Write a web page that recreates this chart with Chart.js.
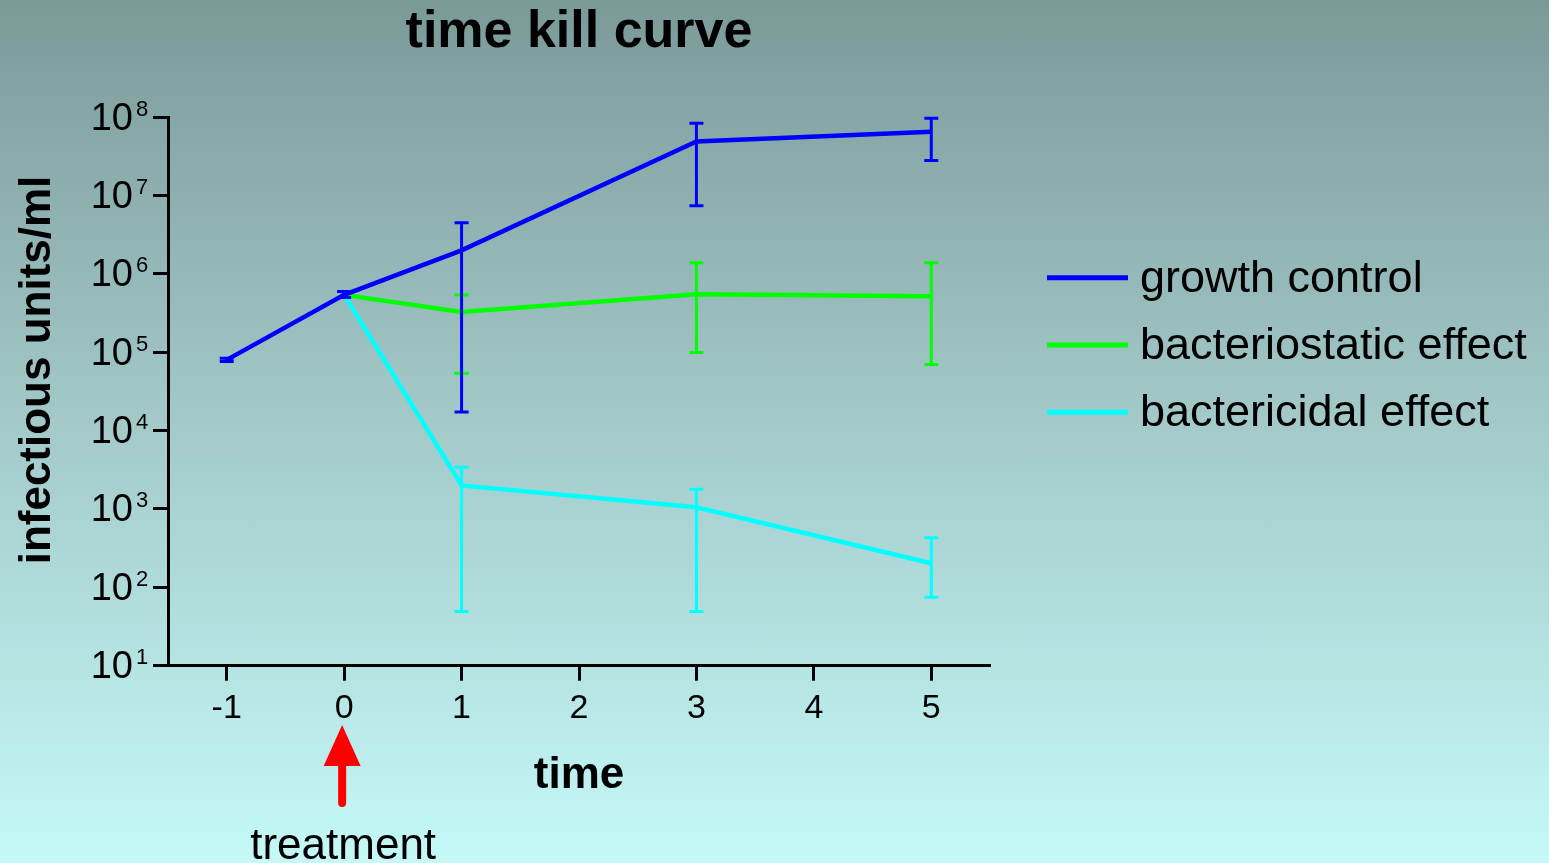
<!DOCTYPE html>
<html>
<head>
<meta charset="utf-8">
<title>time kill curve</title>
<script src="https://cdn.jsdelivr.net/npm/chart.js@4.4.1/dist/chart.umd.min.js"></script>
<style>
  html, body { margin: 0; padding: 0; }
  body {
    width: 1549px; height: 863px; overflow: hidden;
    background: linear-gradient(to bottom, #7a9a98 0%, #a4caca 50%, #c4f9f8 100%);
  }
  #wrap { position: relative; width: 1549px; height: 863px; }
  canvas { display: block; }
</style>
</head>
<body>
<div id="wrap"><canvas id="c" width="1549" height="863"></canvas></div>
<script>
// Sampling times (h) and axis ticks
const xTicks = [-1, 0, 1, 2, 3, 4, 5];
const yTickExponents = [1, 2, 3, 4, 5, 6, 7, 8];

// Growth control (untreated), measured from t = -1
const growthTimes = [-1, 0, 1, 3, 5];
const growthMean  = [8.0e4, 5.4e5, 2.0e6, 4.9e7, 6.5e7];
const growthLow   = [7.6e4, 5.0e5, 1.73e4, 7.4e6, 2.8e7];
const growthHigh  = [8.4e4, 5.97e5, 4.5e6, 8.4e7, 9.7e7];

// Treated cultures, from t = 0 (treatment)
const treatedTimes = [0, 1, 3, 5];
const staticMean = [5.4e5, 3.27e5, 5.5e5, 5.2e5];
const staticLow  = [null, 5.4e4, 9.9e4, 7.0e4];
const staticHigh = [null, 5.4e5, 1.39e6, 1.39e6];

const cidalMean = [5.4e5, 2.0e3, 1.05e3, 203];
const cidalLow  = [null, 49, 49, 75];
const cidalHigh = [null, 3.4e3, 1.79e3, 430];

const seriesNames = ['growth control', 'bacteriostatic effect', 'bactericidal effect'];
const seriesColors = ['#0000ff', '#00ff00', '#00ffff'];

const FONT = "'Liberation Sans', Arial, Helvetica, sans-serif";
Chart.defaults.font.family = FONT;
Chart.defaults.color = '#000';

function points(times, values) {
  return times.map((t, i) => ({ x: t, y: values[i] }));
}

function makeSeries(i, times, mean, low, high) {
  return {
    label: seriesNames[i],
    data: points(times, mean),
    errLow: low,
    errHigh: high,
    borderColor: seriesColors[i],
    backgroundColor: seriesColors[i],
    borderWidth: 4.5,
    pointRadius: 0,
    pointHoverRadius: 0,
    tension: 0,
    fill: false
  };
}

// Vertical error bars with caps, drawn right after each series' line
const errorBars = {
  id: 'errorBars',
  afterDatasetDraw(chart, args) {
    const ds = chart.data.datasets[args.index];
    if (!ds.errLow) return;
    const yScale = chart.scales.y;
    const ctx = chart.ctx;
    ctx.save();
    ctx.strokeStyle = ds.borderColor;
    ctx.lineWidth = 3;
    ctx.lineCap = 'butt';
    args.meta.data.forEach((pt, i) => {
      const lo = ds.errLow[i], hi = ds.errHigh[i];
      if (lo == null || hi == null) return;
      const x = pt.x;
      const yLo = yScale.getPixelForValue(lo);
      const yHi = yScale.getPixelForValue(hi);
      ctx.beginPath();
      ctx.moveTo(x, yLo); ctx.lineTo(x, yHi);
      ctx.moveTo(x - 7, yLo); ctx.lineTo(x + 7, yLo);
      ctx.moveTo(x - 7, yHi); ctx.lineTo(x + 7, yHi);
      ctx.stroke();
    });
    ctx.restore();
  }
};

// Power-of-ten tick labels, y-axis title, legend and treatment marker
const decorations = {
  id: 'decorations',
  afterDraw(chart) {
    const ctx = chart.ctx;
    const yScale = chart.scales.y;
    const xScale = chart.scales.x;
    ctx.save();
    ctx.fillStyle = '#000';

    // 10^n labels
    yScale.ticks.forEach(t => {
      const y = yScale.getPixelForValue(t.value);
      const exp = Math.round(Math.log10(t.value));
      ctx.font = `38px ${FONT}`;
      ctx.textAlign = 'right';
      ctx.textBaseline = 'alphabetic';
      ctx.fillText('10', 133, y + 12.5);
      ctx.font = `22px ${FONT}`;
      ctx.textAlign = 'left';
      ctx.fillText(String(exp), 136, y - 1.5);
    });

    // y-axis title
    ctx.save();
    ctx.translate(50, 370);
    ctx.rotate(-Math.PI / 2);
    ctx.font = `bold 44px ${FONT}`;
    ctx.textAlign = 'center';
    ctx.textBaseline = 'alphabetic';
    ctx.fillText('infectious units/ml', 0, 0);
    ctx.restore();

    // legend
    chart.data.datasets.forEach((ds, i) => {
      const y = 277.7 + i * 67.3;
      ctx.strokeStyle = ds.borderColor;
      ctx.lineWidth = 5;
      ctx.beginPath();
      ctx.moveTo(1047, y);
      ctx.lineTo(1128, y);
      ctx.stroke();
      ctx.font = `45px ${FONT}`;
      ctx.textAlign = 'left';
      ctx.textBaseline = 'alphabetic';
      ctx.fillText(ds.label, 1140, y + 14);
    });

    // treatment arrow at t = 0
    const x0 = xScale.getPixelForValue(0) - 2;
    ctx.fillStyle = '#ff0000';
    ctx.beginPath();
    ctx.moveTo(x0, 725);
    ctx.lineTo(x0 + 18.5, 766);
    ctx.lineTo(x0 - 18.5, 766);
    ctx.closePath();
    ctx.fill();
    ctx.strokeStyle = '#ff0000';
    ctx.lineWidth = 8;
    ctx.lineCap = 'round';
    ctx.beginPath();
    ctx.moveTo(x0, 760);
    ctx.lineTo(x0, 803);
    ctx.stroke();

    ctx.fillStyle = '#000';
    ctx.font = `44px ${FONT}`;
    ctx.textAlign = 'center';
    ctx.fillText('treatment', x0 + 1, 859);
    ctx.restore();
  }
};

const axisGrid = {
  drawOnChartArea: false,
  drawTicks: true,
  tickLength: 15,
  tickWidth: 3,
  tickColor: '#000'
};

new Chart(document.getElementById('c'), {
  type: 'line',
  data: {
    datasets: [
      makeSeries(0, growthTimes, growthMean, growthLow, growthHigh),
      makeSeries(1, treatedTimes, staticMean, staticLow, staticHigh),
      makeSeries(2, treatedTimes, cidalMean, cidalLow, cidalHigh)
    ]
  },
  options: {
    responsive: false,
    devicePixelRatio: 1,
    animation: false,
    events: [],
    layout: { padding: { left: 0, right: 559, top: 0, bottom: 0 } },
    plugins: {
      legend: { display: false },
      tooltip: { enabled: false },
      title: {
        display: true,
        text: 'time kill curve',
        fullSize: false,
        color: '#000',
        font: { size: 52, weight: 'bold', lineHeight: 1.1 },
        padding: { top: 4, bottom: 56 }
      }
    },
    scales: {
      x: {
        type: 'linear',
        min: -1.5,
        max: 5.5,
        afterBuildTicks: s => { s.ticks = xTicks.map(v => ({ value: v })); },
        afterFit: s => { s.height = 197.3; },
        grid: axisGrid,
        border: { display: true, color: '#000', width: 3 },
        ticks: { color: '#000', font: { size: 34 }, padding: 8, maxRotation: 0, autoSkip: false },
        title: {
          display: true,
          text: 'time',
          color: '#000',
          font: { size: 44, weight: 'bold' },
          padding: { top: 0, bottom: 61 }
        }
      },
      y: {
        type: 'logarithmic',
        min: 10,
        max: 1e8,
        afterBuildTicks: s => { s.ticks = yTickExponents.map(e => ({ value: Math.pow(10, e) })); },
        afterFit: s => { s.width = 168; },
        grid: axisGrid,
        border: { display: true, color: '#000', width: 3 },
        ticks: { display: false }
      }
    }
  },
  plugins: [errorBars, decorations]
});
</script>
</body>
</html>
